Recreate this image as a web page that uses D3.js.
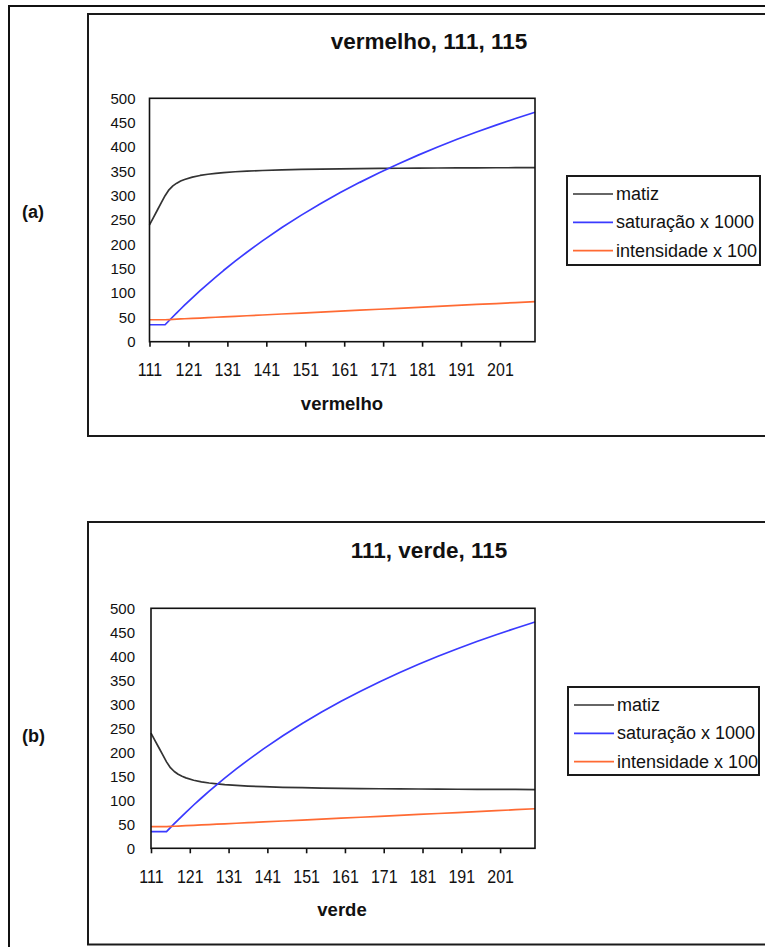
<!DOCTYPE html>
<html>
<head>
<meta charset="utf-8">
<script src="https://cdn.jsdelivr.net/npm/d3@7"></script>
<style>
  html, body { margin: 0; padding: 0; background: #fff; }
  svg { display: block; }
  text { font-family: "Liberation Sans", Arial, sans-serif; fill: #111; }
</style>
</head>
<body>
<svg id="chart" width="765" height="947"></svg>
<script>
// Sampled channel values (x = varying channel, 111..210)
const xValues = [111,112,113,114,115,116,117,118,119,120,122,124,126,128,130,133,136,140,145,150,155,160,165,170,175,180,185,190,195,200,205,210];

// (a) vermelho varies, G = 111, B = 115
const matizA = [240,255,270,285,300,312,320,325.7,330,333.3,338.2,341.5,344,345.9,347.4,349.1,350.4,351.7,352.9,353.8,354.5,355.1,355.6,355.9,356.3,356.5,356.8,357,357.1,357.3,357.4,357.6];
const saturacaoA = [34.8,34.8,34.8,34.8,34.8,43.1,51.3,59.3,67.2,75,90.2,104.8,119,132.8,146.2,165.4,183.8,207.1,234.5,260,283.9,306.3,327.3,347.1,365.7,383.3,400,415.8,430.8,445,458.5,471.4];
const intensidadeA = [45.1,45.1,45.1,45.1,45.1,45.5,45.9,46.3,46.7,47.1,47.8,48.6,49.4,50.2,51,52.2,53.3,54.9,56.9,58.8,60.8,62.7,64.7,66.7,68.6,70.6,72.5,74.5,76.5,78.4,80.4,82.4];

// (b) verde varies, R = 111, B = 115
const matizB = [240,225,210,195,180,168,160,154.3,150,146.7,141.8,138.5,136,134.1,132.6,130.9,129.6,128.3,127.1,126.2,125.5,124.9,124.4,124.1,123.8,123.5,123.2,123,122.9,122.7,122.6,122.4];
const saturacaoB = [34.8,34.8,34.8,34.8,34.8,43.1,51.3,59.3,67.2,75,90.2,104.8,119,132.8,146.2,165.4,183.8,207.1,234.5,260,283.9,306.3,327.3,347.1,365.7,383.3,400,415.8,430.8,445,458.5,471.4];
const intensidadeB = [45.1,45.1,45.1,45.1,45.1,45.5,45.9,46.3,46.7,47.1,47.8,48.6,49.4,50.2,51,52.2,53.3,54.9,56.9,58.8,60.8,62.7,64.7,66.7,68.6,70.6,72.5,74.5,76.5,78.4,80.4,82.4];

const xTickLabels = [111,121,131,141,151,161,171,181,191,201];
const yTickLabels = [0,50,100,150,200,250,300,350,400,450,500];
const seriesNames = ["matiz", "saturação x 1000", "intensidade x 100"];
const seriesColors = ["#333333", "#3a3aff", "#ff6a33"];

const svg = d3.select("#chart");

// outer page frame
svg.append("path")
  .attr("d", "M9,960 L9,6 L780,6")
  .attr("fill", "none").attr("stroke", "#111").attr("stroke-width", 2);

const panels = [
  {
    tag: "(a)", title: "vermelho, 111, 115", xTitle: "vermelho",
    series: [matizA, saturacaoA, intensidadeA],
    box: { x: 88, y: 14, w: 700, h: 422 },
    plot: { l: 149.5, r: 535, t: 98.3, b: 341.7 },
    titleY: 49, xTitleY: 410, tickLabelY: 34.5, yPad: 14,
    legend: { x: 567, y: 176, w: 193, h: 89 },
    tagY: 212
  },
  {
    tag: "(b)", title: "111, verde, 115", xTitle: "verde",
    series: [matizB, saturacaoB, intensidadeB],
    box: { x: 88, y: 522, w: 700, h: 422.5 },
    plot: { l: 151, r: 535, t: 608.3, b: 848.3 },
    titleY: 558, xTitleY: 916, tickLabelY: 35, yPad: 16,
    legend: { x: 568, y: 687, w: 191, h: 88 },
    tagY: 736
  }
];

const labelStretch = 1.2; // tall, narrow tick-label glyphs

panels.forEach(p => {
  const g = svg.append("g");

  // chart frame
  g.append("rect")
    .attr("x", p.box.x).attr("y", p.box.y)
    .attr("width", p.box.w).attr("height", p.box.h)
    .attr("fill", "#fff").attr("stroke", "#1a1a1a").attr("stroke-width", 2);

  // panel tag
  g.append("text")
    .attr("x", 22).attr("y", p.tagY)
    .attr("dominant-baseline", "central")
    .style("font-size", "18px").style("font-weight", "bold")
    .text(p.tag);

  // title
  g.append("text")
    .attr("x", 429).attr("y", p.titleY)
    .attr("text-anchor", "middle")
    .style("font-size", "22.5px").style("font-weight", "bold")
    .text(p.title);

  const x = d3.scaleLinear().domain([111, 210]).range([p.plot.l, p.plot.r]);
  const y = d3.scaleLinear().domain([0, 500]).range([p.plot.b, p.plot.t]);

  // x axis ticks and labels
  const xAxis = g.append("g")
    .attr("transform", `translate(0,${p.plot.b})`)
    .call(d3.axisBottom(x).tickValues(xTickLabels).tickSize(5).tickFormat(d3.format("d")));
  xAxis.select(".domain").remove();
  xAxis.selectAll(".tick line").attr("stroke", "#111").attr("stroke-width", 1.6);
  xAxis.selectAll(".tick text")
    .attr("y", p.tickLabelY / labelStretch).attr("dy", null)
    .attr("transform", `scale(1,${labelStretch})`)
    .style("font-size", "16px").attr("fill", "#111");

  // y axis labels
  const yAxis = g.append("g")
    .attr("transform", `translate(${p.plot.l},0)`)
    .call(d3.axisLeft(y).tickValues(yTickLabels).tickSize(0).tickPadding(p.yPad).tickFormat(d3.format("d")));
  yAxis.select(".domain").remove();
  yAxis.selectAll(".tick text").style("font-size", "15px").attr("fill", "#111");

  // series lines
  const line = d3.line().x((d, i) => x(xValues[i])).y(d => y(d));
  p.series.forEach((vals, k) => {
    g.append("path")
      .datum(vals)
      .attr("d", line)
      .attr("fill", "none")
      .attr("stroke", seriesColors[k])
      .attr("stroke-width", 1.7)
      .attr("stroke-linejoin", "round");
  });

  // plot border
  g.append("rect")
    .attr("x", p.plot.l).attr("y", p.plot.t)
    .attr("width", p.plot.r - p.plot.l).attr("height", p.plot.b - p.plot.t)
    .attr("fill", "none").attr("stroke", "#111").attr("stroke-width", 1.6);

  // x axis title
  g.append("text")
    .attr("x", 342).attr("y", p.xTitleY)
    .attr("text-anchor", "middle")
    .style("font-size", "18.5px").style("font-weight", "bold")
    .text(p.xTitle);

  // legend
  const lg = g.append("g").attr("transform", `translate(${p.legend.x},${p.legend.y})`);
  lg.append("rect")
    .attr("width", p.legend.w).attr("height", p.legend.h)
    .attr("fill", "#fff").attr("stroke", "#1a1a1a").attr("stroke-width", 2);
  seriesNames.forEach((name, k) => {
    const cy = 18 + k * 28.3;
    lg.append("line")
      .attr("x1", 6).attr("x2", 46).attr("y1", cy).attr("y2", cy)
      .attr("stroke", seriesColors[k]).attr("stroke-width", 1.7);
    lg.append("text")
      .attr("x", 49).attr("y", cy)
      .attr("dominant-baseline", "central")
      .style("font-size", "18px")
      .text(name);
  });
});
</script>
</body>
</html>
